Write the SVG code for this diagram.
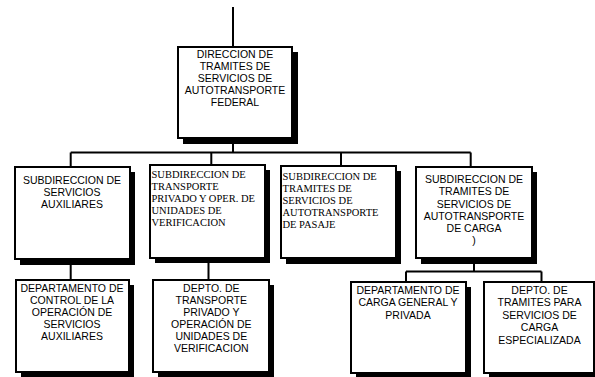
<svg xmlns="http://www.w3.org/2000/svg" width="595" height="377" viewBox="0 0 595 377">
<style>
.sh{fill:#000}
.bx{fill:#fff;stroke:#000;stroke-width:2}
.ln{fill:none;stroke:#000;stroke-width:2}
.s{font-family:"Liberation Sans",Arial,sans-serif;font-size:10.5px;fill:#000;text-anchor:middle}
.r{font-family:"Liberation Serif","Times New Roman",serif;font-size:10.5px;fill:#000}
</style>
<rect width="595" height="377" fill="#fff"/>
<g id="connectors">
<path class="ln" d="M233 7V47"/>
<path class="ln" d="M233 138V152.5M70.7 152.5H470.7M70.7 152.5V167M211.3 152.5V165M341 152.5V166M470.7 152.5V167"/>
<path class="ln" d="M70.7 259V280M208.5 258V280M474 258V271.5M406 271.5H541.5M406 271.5V282M541.5 271.5V282"/>
</g>
<g id="n0">
<rect class="sh" x="183" y="52" width="115" height="92"/>
<rect class="bx" x="178" y="47" width="114" height="91"/>
<text class="s" x="235" y="57.5">DIRECCION DE</text>
<text class="s" x="235" y="69.6">TRAMITES DE</text>
<text class="s" x="235" y="81.7">SERVICIOS DE</text>
<text class="s" x="235" y="93.8">AUTOTRANSPORTE</text>
<text class="s" x="235" y="105.9">FEDERAL</text>
</g>
<g id="n1">
<rect class="sh" x="20" y="172" width="115" height="93"/>
<rect class="bx" x="15" y="167" width="115" height="92"/>
<text class="s" x="72" y="184.3">SUBDIRECCION DE</text>
<text class="s" x="72" y="196.3">SERVICIOS</text>
<text class="s" x="72" y="208.3">AUXILIARES</text>
</g>
<g id="n2">
<rect class="sh" x="155" y="170" width="115" height="93"/>
<rect class="bx" x="150" y="165" width="115" height="93"/>
<text class="r" x="151.5" y="178">SUBDIRECCION DE</text>
<text class="r" x="151.5" y="190">TRANSPORTE</text>
<text class="r" x="151.5" y="202">PRIVADO Y OPER. DE</text>
<text class="r" x="151.5" y="214">UNIDADES DE</text>
<text class="r" x="151.5" y="226">VERIFICACION</text>
</g>
<g id="n3">
<rect class="sh" x="286" y="171" width="115" height="93"/>
<rect class="bx" x="281" y="166" width="115" height="92"/>
<text class="r" x="282.5" y="180">SUBDIRECCION DE</text>
<text class="r" x="282.5" y="192">TRAMITES DE</text>
<text class="r" x="282.5" y="204">SERVICIOS DE</text>
<text class="r" x="282.5" y="216">AUTOTRANSPORTE</text>
<text class="r" x="282.5" y="228">DE PASAJE</text>
</g>
<g id="n4">
<rect class="sh" x="421" y="172" width="116" height="92"/>
<rect class="bx" x="416" y="167" width="116" height="91"/>
<text class="s" x="474" y="183.3">SUBDIRECCION DE</text>
<text class="s" x="474" y="195.4">TRAMITES DE</text>
<text class="s" x="474" y="207.5">SERVICIOS DE</text>
<text class="s" x="474" y="219.6">AUTOTRANSPORTE</text>
<text class="s" x="474" y="231.7">DE CARGA</text>
<text class="s" x="474" y="243.8">)</text>
</g>
<g id="n5">
<rect class="sh" x="21" y="285" width="113" height="93"/>
<rect class="bx" x="16" y="280" width="113" height="92"/>
<text class="s" x="72" y="291.7">DEPARTAMENTO DE</text>
<text class="s" x="72" y="303.7">CONTROL DE LA</text>
<text class="s" x="72" y="315.7">OPERACIÓN DE</text>
<text class="s" x="72" y="327.7">SERVICIOS</text>
<text class="s" x="72" y="339.7">AUXILIARES</text>
</g>
<g id="n6">
<rect class="sh" x="158" y="285" width="116" height="93"/>
<rect class="bx" x="153" y="280" width="116" height="92"/>
<text class="s" x="211.3" y="291.7">DEPTO. DE</text>
<text class="s" x="211.3" y="303.7">TRANSPORTE</text>
<text class="s" x="211.3" y="315.7">PRIVADO Y</text>
<text class="s" x="211.3" y="327.7">OPERACIÓN DE</text>
<text class="s" x="211.3" y="339.7">UNIDADES DE</text>
<text class="s" x="211.3" y="351.7">VERIFICACION</text>
</g>
<g id="n7">
<rect class="sh" x="356" y="287" width="115" height="92"/>
<rect class="bx" x="351" y="282" width="115" height="91"/>
<text class="s" x="408" y="293.5">DEPARTAMENTO DE</text>
<text class="s" x="408" y="306">CARGA GENERAL Y</text>
<text class="s" x="408" y="318.5">PRIVADA</text>
</g>
<g id="n8">
<rect class="sh" x="489" y="287" width="115" height="92"/>
<rect class="bx" x="484" y="282" width="110" height="91"/>
<text class="s" x="539.5" y="293.5">DEPTO. DE</text>
<text class="s" x="539.5" y="306">TRAMITES PARA</text>
<text class="s" x="539.5" y="318.5">SERVICIOS DE</text>
<text class="s" x="539.5" y="331">CARGA</text>
<text class="s" x="539.5" y="343.5">ESPECIALIZADA</text>
</g>
</svg>
